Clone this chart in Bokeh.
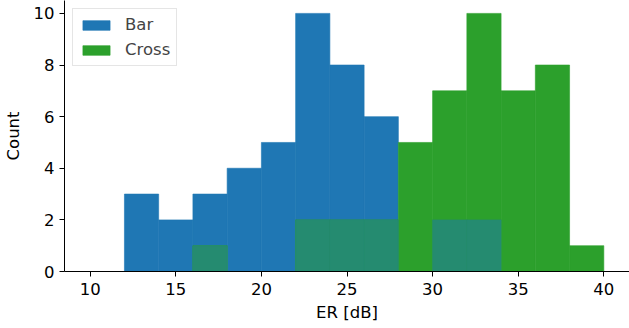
import numpy as np
from bokeh.plotting import figure
from bokeh.models import Range1d, Legend, LegendItem, FixedTicker
from bokeh.embed import file_html
from bokeh.resources import INLINE

bin_edges = [10, 12, 14, 16, 18, 20, 22, 24, 26, 28, 30, 32, 34, 36, 38, 40]
bar_counts = [0, 3, 2, 3, 4, 5, 10, 8, 6, 0, 2, 2, 0, 0, 0]
cross_counts = [0, 0, 0, 1, 0, 0, 2, 2, 2, 5, 7, 10, 7, 8, 1]
x_ticks = [10, 15, 20, 25, 30, 35, 40]
y_ticks = [0, 2, 4, 6, 8, 10]

BLUE = "#1f77b4"
GREEN = "#2ca02c"
MIX = "#258b70"
FONT = "DejaVu Sans"
FS = "16.5px"

left = np.array(bin_edges[:-1])
right = np.array(bin_edges[1:])
bar = np.array(bar_counts)
cross = np.array(cross_counts)
overlap = np.minimum(bar, cross)

p = figure(width=629, height=328, output_backend="svg", toolbar_location=None,
           x_range=Range1d(8.5, 41.5), y_range=Range1d(0, 10.5),
           min_border_left=63, min_border_right=0, min_border_top=0, min_border_bottom=57)
p.outline_line_color = None
p.grid.visible = False
p.background_fill_color = "white"

r_bar = p.quad(left=left, right=right, bottom=0, top=bar, fill_color=BLUE,
               line_color=BLUE, line_width=0.6)
r_cross = p.quad(left=left, right=right, bottom=0, top=cross, fill_color=GREEN,
                 line_color=GREEN, line_width=0.6)
p.quad(left=left, right=right, bottom=0, top=overlap, fill_color=MIX,
       line_color=MIX, line_width=0.6)

for ax in (p.xaxis[0], p.yaxis[0]):
    ax.axis_line_color = "black"
    ax.axis_line_width = 1
    ax.major_tick_line_color = "black"
    ax.major_tick_out = 5
    ax.major_tick_in = 0
    ax.minor_tick_line_color = None
    ax.major_label_text_font = FONT
    ax.major_label_text_font_size = FS
    ax.major_label_text_color = "black"
    ax.axis_label_text_font = FONT
    ax.axis_label_text_font_size = FS
    ax.axis_label_text_font_style = "normal"
    ax.axis_label_text_color = "black"

p.xaxis[0].ticker = FixedTicker(ticks=x_ticks)
p.yaxis[0].ticker = FixedTicker(ticks=y_ticks)
p.xaxis[0].axis_label = "ER [dB]"
p.yaxis[0].axis_label = "Count"
p.xaxis[0].major_label_standoff = 6
p.xaxis[0].axis_label_standoff = 5
p.yaxis[0].major_label_standoff = 5
p.yaxis[0].axis_label_standoff = 8

legend = Legend(items=[LegendItem(label="Bar", renderers=[r_bar]),
                       LegendItem(label="Cross", renderers=[r_cross])],
                location="top_left")
legend.label_text_font = FONT
legend.label_text_font_size = FS
legend.glyph_width = 34
legend.glyph_height = 12
legend.label_height = 18
legend.spacing = 6
legend.padding = 6
legend.margin = 8
legend.label_standoff = 12
legend.border_line_color = "#cccccc"
legend.border_line_width = 1
legend.background_fill_alpha = 0.8
p.add_layout(legend)

open("out.html", "w").write(file_html(p, INLINE))
